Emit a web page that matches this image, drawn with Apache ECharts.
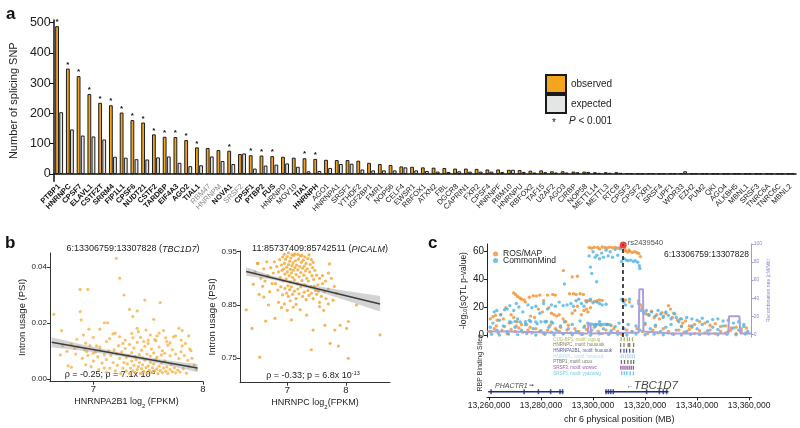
<!DOCTYPE html>
<html><head><meta charset="utf-8">
<script src="https://cdn.jsdelivr.net/npm/echarts@6/dist/echarts.min.js"></script>
<style>html,body{margin:0;padding:0;background:#fff}#c{width:800px;height:428px}</style>
</head><body><div id="c"></div><script>
const FONT = 'Liberation Sans, Arial, Helvetica, sans-serif';
// ---------- panel a ----------
const rbps = ['PTBP1','HNRNPC','CPSF7','ELAVL1','CSTF2T','SRRM4','FIP1L1','CPSF6','NUDT21','CSTF2','TARDBP','EIF4A3','AGO2','TIAL1','RBM47','HNRNPM','NOVA1','SRSF2','CPSF1','PTBP2','FUS','HNRNPD','MOV10','TIA1','HNRNPH','AGO1','HNRNPA1','SRSF1','YTHDF2','IGF2BP1','FMR1','NOP56','CELF4','EWSR1','RBFOX1','ATXN2','FBL','DGCR8','CAPRIN1','FXR2','CPSF4','HNRNPF','RBM10','HNRNPU','RBFOX2','TAF15','U2AF2','AGO3','CIRBP','NOP58','METTL14','METTL3','RTCB','CPSF3','CPSF2','FXR1','SRSF4','UPF1','WDR33','EZH2','PUM2','QKI','AGO4','ALKBH5','MBNL1','SRSF3','TNRC6A','TNRC6C','MBNL2'];
const observed = [488,348,323,264,235,227,203,178,170,131,123,122,112,88,86,79,77,66,62,61,59,57,54,52,50,47,46,46,44,37,33,30,25,24,22,21,20,18,18,17,15,15,14,13,11,12,9,9,8,8,6,6,6,3,3,3,2,3,3,2,2,2,2,2,2,2,2,2,1];
const expected = [204,147,127,124,114,57,54,49,48,55,58,37,26,29,58,43,33,68,18,28,31,35,24,9,10,20,33,34,15,12,12,12,22,12,10,8,7,9,8,8,8,7,14,7,5,6,5,5,6,7,4,4,4,3,3,3,3,3,9,3,2,2,2,2,2,2,2,2,2];
const sigFlags = [1,1,1,1,1,1,1,1,1,1,1,1,1,1,0,0,1,0,1,1,1,0,0,1,1,0,0,0,0,0,0,0,0,0,0,0,0,0,0,0,0,0,0,0,0,0,0,0,0,0,0,0,0,0,0,0,0,0,0,0,0,0,0,0,0,0,0,0,0];
const grayLabels = ['RBM47','HNRNPM','SRSF2'];
const yTicksA = [0,100,200,300,400,500];

// ---------- panel b ----------
const bLeftPts = [[7.21,0.0432],[7.24,0.0361],[7.28,0.0301],[6.88,0.0321],[6.95,0.0321],[7.47,0.0283],[7.61,0.0274],[6.64,0.0232],[6.88,0.0242],[7.33,0.025],[7.40,0.0244],[7.36,0.0224],[7.10,0.0202],[7.13,0.0202],[6.71,0.0174],[6.89,0.0212],[6.96,0.0179],[7.06,0.0179],[7.40,0.0182],[7.48,0.0176],[7.55,0.0214],[7.64,0.0174],[7.78,0.0182],[7.81,0.0174],[7.87,0.0155],[7.88,0.0108],[6.70,0.0087],[6.77,0.0048],[6.80,0.0043],[6.85,0.0143],[6.91,0.0158],[6.93,0.0129],[7.00,0.015],[7.03,0.0119],[7.12,0.0135],[7.18,0.0162],[7.24,0.0152],[7.29,0.014],[7.35,0.0164],[7.43,0.015],[7.50,0.014],[7.58,0.0155],[7.67,0.0135],[7.73,0.0152],[7.81,0.0119],[7.89,0.0102],[7.94,0.0036],[7.92,0.0051],[7.87,0.0045],[6.83,0.0111],[6.94,0.0099],[7.00,0.0093],[7.06,0.0105],
[7.15,0.004],[7.18,0.006],[7.2,0.003],[7.22,0.005],[7.24,0.0075],[7.25,0.002],[7.27,0.004],[7.28,0.006],[7.3,0.003],[7.31,0.0055],[7.32,0.0085],[7.33,0.002],[7.34,0.004],[7.35,0.0065],[7.36,0.003],[7.37,0.005],[7.38,0.0025],[7.39,0.007],[7.4,0.0035],[7.41,0.0045],[7.42,0.006],[7.43,0.002],[7.44,0.0038],[7.45,0.0052],[7.46,0.0028],[7.47,0.0068],[7.48,0.0042],[7.49,0.0022],[7.5,0.0048],[7.51,0.0033],[7.52,0.006],[7.53,0.0025],[7.54,0.0041],[7.55,0.0055],[7.56,0.003],[7.57,0.0072],[7.58,0.0037],[7.59,0.002],[7.6,0.0047],[7.61,0.0031],[7.62,0.0058],[7.63,0.0024],[7.64,0.004],[7.65,0.0066],[7.66,0.0029],[7.67,0.0044],[7.68,0.0021],[7.7,0.0035],[7.71,0.0052],[7.72,0.0027],[7.74,0.0041],[7.75,0.0023],[7.77,0.0033],[7.79,0.0026],[7.82,0.0038],[7.85,0.0022],
[7.16,0.0085],[7.19,0.0105],[7.21,0.0092],[7.23,0.012],[7.26,0.0098],[7.29,0.011],[7.3,0.0078],[7.33,0.0125],[7.35,0.0095],[7.37,0.0112],[7.38,0.0082],[7.4,0.0132],[7.42,0.0088],[7.44,0.0104],[7.45,0.0076],[7.47,0.0118],[7.49,0.009],[7.5,0.0128],[7.52,0.0083],[7.53,0.0108],[7.55,0.0094],[7.57,0.0138],[7.58,0.0079],[7.6,0.0115],[7.62,0.0087],[7.63,0.0102],[7.65,0.0093],[7.68,0.0122],[7.7,0.0084],[7.72,0.0106],[7.75,0.009],[7.78,0.0074],[7.8,0.0098],[7.83,0.0085],[7.86,0.0068],[7.9,0.0075],
[6.72,0.012],[6.76,0.01],[6.8,0.0125],[6.84,0.009],[6.86,0.0118],[6.9,0.0075],[6.92,0.0105],[6.95,0.0085],[6.97,0.012],[7.0,0.0065],[7.02,0.0098],[7.04,0.008],[7.06,0.0115],[7.08,0.0058],[7.1,0.0088],[7.12,0.007],[7.14,0.0102],[6.98,0.0045],[7.05,0.0035],[7.1,0.004],[7.12,0.0025],[6.93,0.0052],
[7.15,0.0145],[7.2,0.0165],[7.27,0.0128],[7.36,0.0148],[7.41,0.017],[7.46,0.0135],[7.52,0.0158],[7.56,0.0142],[7.6,0.0165],[7.66,0.0148],[7.7,0.013],[7.75,0.0155],[7.8,0.014],[7.84,0.0128]];
const bLeftFit = [[6.62,0.0132],[7.95,0.0040]];
const bLeftBandX = [6.62,6.9,7.2,7.5,7.8,7.95];
const bLeftBandLo = [0.0114,0.0102,0.0085,0.0064,0.0039,0.0025];
const bLeftBandHi = [0.0150,0.0124,0.0099,0.0078,0.0061,0.0055];

const bRightPts = [[6.78,0.931],[6.82,0.922],[6.85,0.912],[6.87,0.935],[6.88,0.902],[6.9,0.925],[6.91,0.915],[6.92,0.94],[6.93,0.895],[6.94,0.918],[6.95,0.928],[6.96,0.908],[6.97,0.936],[6.98,0.899],[6.99,0.921],[7.0,0.912],[7.0,0.941],[7.01,0.886],[7.02,0.926],[7.03,0.905],[7.04,0.932],[7.05,0.917],[7.05,0.893],[7.06,0.938],[7.07,0.91],[7.08,0.924],[7.09,0.902],[7.1,0.929],[7.1,0.915],[7.11,0.943],[7.12,0.897],[7.13,0.92],[7.14,0.933],[7.15,0.907],[7.16,0.925],[7.17,0.89],[7.18,0.916],[7.19,0.936],[7.2,0.903],[7.21,0.922],[7.22,0.942],[7.23,0.911],[7.24,0.93],[7.25,0.896],[7.26,0.919],[7.27,0.934],[7.28,0.906],[7.29,0.923],[7.3,0.888],[7.31,0.914],[7.32,0.928],[7.33,0.9],[7.34,0.918],[7.35,0.937],[7.36,0.895],[7.38,0.912],[7.39,0.926],[7.4,0.884],[7.42,0.905],[7.43,0.92],[7.45,0.898],[7.47,0.915],[7.48,0.877],[7.5,0.906],[7.52,0.888],[7.55,0.9],
[6.8,0.89],[6.84,0.878],[6.89,0.884],[6.92,0.869],[6.96,0.881],[6.99,0.872],[7.02,0.866],[7.04,0.879],[7.07,0.884],[7.09,0.87],[7.12,0.876],[7.15,0.862],[7.18,0.88],[7.2,0.871],[7.23,0.884],[7.26,0.866],[7.29,0.874],[7.32,0.86],[7.35,0.877],[7.37,0.868],[7.41,0.872],[7.44,0.862],[7.46,0.885],[7.5,0.87],[7.53,0.876],[7.58,0.866],[7.6,0.89],[7.63,0.875],[7.66,0.862],[7.7,0.88],
[6.95,0.945],[7.02,0.948],[7.08,0.944],[7.13,0.946],[7.18,0.945],[7.25,0.943],[7.3,0.94],[7.37,0.944],[7.41,0.935],[7.44,0.93],
[6.45,0.912],[6.5,0.928],[6.55,0.9],[6.58,0.885],[6.6,0.918],[6.62,0.895],[6.65,0.931],[6.67,0.905],[6.7,0.875],[6.72,0.92],[6.74,0.89],[6.76,0.91],[6.6,0.865],[6.68,0.85],[6.52,0.87],[6.42,0.889],
[6.85,0.855],[6.9,0.845],[6.95,0.852],[7.0,0.84],[7.05,0.858],[7.1,0.846],[7.15,0.851],
[7.6,0.905],[7.65,0.895],[7.7,0.91],[7.72,0.927],[7.75,0.9],[7.8,0.885],[7.55,0.855],[7.62,0.84],[7.7,0.852],
[6.30,0.841],[6.40,0.806],[6.53,0.752],[6.63,0.820],[6.79,0.825],[6.49,0.928],[7.44,0.803],[7.41,0.766],[7.64,0.812],[7.81,0.803],[7.90,0.812],[8.04,0.819],[8.01,0.806],[7.87,0.773],[8.04,0.75],[8.58,0.794],[8.18,0.85],[7.73,0.778],[7.07,0.822],[7.22,0.841],[7.33,0.831],[7.55,0.847],[7.78,0.859],[7.84,0.872]];
const bRightFit = [[6.30,0.913],[8.58,0.852]];
const bRightBandX = [6.30,6.7,7.0,7.4,7.9,8.58];
const bRightBandLo = [0.905,0.8983,0.8913,0.8796,0.8622,0.838];
const bRightBandHi = [0.921,0.9063,0.8973,0.8876,0.8782,0.867];

// ---------- panel c (positions in kb) ----------
const rosmap = [[13298.5,63],[13299.5,62.5],[13300.5,63.2],[13301.8,63],[13302.5,62],[13303.5,63.4],[13304.6,63],[13305.5,62.6],[13306.4,63.3],[13307.5,62.8],[13308.6,63.1],[13309.6,62.5],[13310.4,63],
[13312.5,60.5],[13313.3,59.8],[13314.2,60.2],[13315.1,59.5],[13316,60],[13316.8,59.2],[13317.6,58.8],[13318.2,56.5],[13312.2,61.8],[13313.8,61.2],
[13288.6,46.5],[13292,42],[13294,42.5],
[13269.5,30.5],[13270.2,29.5],[13271,28],[13271.8,27],[13272.5,26],[13273.5,25.5],[13274,24],[13275.5,27.5],[13277,28.5],[13278.2,28.3],[13279.5,29],[13281,25],[13282.5,29],[13284.5,29.5],[13285.5,29],[13291,30],[13292.5,30],[13293.5,29.5],[13295,30],[13296.3,29.5],[13297.2,25],[13298,25],[13299,25],[13300.5,24.5],[13301.5,25],[13302.5,25.5],[13303.5,25.2],[13311.5,25],[13312.5,25.5],[13314,24],[13317.5,25],[13318.3,22],[13318.8,20],
[13260.5,12],[13261.5,13.5],[13262.5,14.5],[13263.2,11],[13264.5,15],[13265.5,12],[13266.5,20],[13267.8,9],[13268.5,15],[13269.5,13],[13270.8,10],[13272.5,8],[13274.5,8],[13276,14],[13277.5,13],[13279,19],[13280.5,17],[13282,10],[13283,20],[13284,16],[13285,15],[13286,14],[13287,15],[13288.5,12],[13289.5,10],[13290.5,7.5],[13292,16],[13293,18],[13294,21],[13295.5,15],[13296.5,18],[13297.5,19],[13298,17],[13299,20],
[13319.5,17],[13320.5,15.5],[13321.5,14.5],[13322.5,17.5],[13323.5,13],[13324.5,15],[13325.5,12],[13326.5,16.5],[13327,14],[13328,16],[13329,21.5],[13329.8,19],[13330.5,13],[13331.5,15.5],[13332.5,11],[13333.5,12],[13334.5,9],[13335.5,10.5],[13337,7],[13339,8],[13341,10],[13343,9],[13345,7.5],[13347,8.5],[13349,6.5],[13351,7],[13353,5.5],[13355,6],[13357,5],[13359,5.5],
[13260.5,3],[13262,5],[13263.5,2],[13265,4],[13267,1.5],[13268.5,4.5],[13270,3],[13271.5,5.5],[13273,2.5],[13275,4],[13276.5,2],[13278,5],[13279.5,3],[13281,1.5],[13282.5,4],[13284,2.5],[13285.5,5],[13287,3],[13288.5,1.5],[13290,4],[13291.5,2],[13293,5],[13294.5,3],[13296,1],[13297.5,4.5],[13299,2.5],[13300.5,6],[13302,3],[13303.5,1.5],[13305,4],[13306.5,2],[13308,5],[13309.5,3],[13311,1],[13313,4],[13315,2.5],[13317,5],[13319,3],[13321,1.5],[13323,4],[13325,2],[13327,5],[13329,3],[13331,1],[13333,4],[13335,2.5],[13337,4.5],[13339,1.5],[13341,3.5],[13343,2],[13345,4],[13347,1.5],[13349,3],[13351,2],[13353,4],[13355,1.5],[13357,3],[13359,2],
[13262.8,7],[13266,6.5],[13270.5,7],[13275.8,6],[13283.5,7.5],[13287.5,6],[13296.8,7],[13301,8],[13303,7.5],[13305.5,8],[13307,7.2],[13320,8],[13324,6.5],[13334,7],[13338,6]];
const commonMind = [[13298.5,57],[13299,49],[13299.5,44.5],[13300,60],[13300.8,56],[13301.5,57.5],[13302.5,55],[13303.3,59],[13304,56],[13305,61],[13305.8,57],[13306.6,60],[13307.5,56],[13308.5,61.5],[13309.5,57.5],[13310.5,62],[13311,53],[13312,55],[13312.8,54],[13313.5,53.5],[13314.5,54],[13315.5,53],[13316.3,53.5],[13317.2,52.5],[13318,48],[13317.8,50],
[13289,37],[13301.4,38.5],
[13262,17],[13263,18],[13264.5,15],[13266,18.5],[13267,19],[13268,21.5],[13269.5,18],[13270.5,23],[13271.5,20.5],[13273,17],[13275,22],[13276.5,20],[13278,21],[13279.5,16],[13281,23],[13282.5,19],[13284,22],[13285.5,21],[13287,24],[13288.5,21.5],[13290,22],[13291.5,23],[13292.5,21],[13293.5,25],[13294.5,26],[13295.5,23],[13296.5,21],[13297.5,24],[13299,26],[13300,23.5],[13301.5,24],[13302.5,23],[13303.5,22],[13305,22.5],[13311,26],[13311.8,24],[13312.5,22],[13314,26],[13315,21],[13317.5,23],[13318.5,18],[13319.5,16],[13320.5,18],[13321.5,15],[13322.5,17],[13324,14],[13325,18],[13326,15.5],[13327,13],[13328,17],[13329,14.5],[13330,12],[13331,16],[13332,13],[13333,10],[13334,12],[13336,13],[13338,12],[13340,11],[13342,12.5],[13344,10],[13346,11.5],[13348,12],[13350,10.5],[13352,11],[13354,9],[13356,10],[13358,8],
[13298.5,8],[13299.5,8.2],[13300.5,7.8],[13301.5,8.1],[13302.5,8],[13303.5,7.9],[13304.5,8.2],[13305.5,8],[13306.5,7.8],[13268,10],[13270,10.2],[13272,9.8],[13274,10],[13276,10.1],[13278,9.9],[13280,10],[13282,10.2],[13284,9.8],
[13260.5,6],[13261.5,9],[13263,4],[13264,11],[13265.5,7],[13267,3],[13268.5,9.5],[13270,6],[13271,12],[13272.5,4],[13274,8],[13275.5,11],[13277,5],[13278.5,8.5],[13280,3.5],[13281.5,10],[13283,6],[13284.5,9],[13286,4],[13287.5,7],[13289,10],[13290.5,5],[13292,8],[13293.5,3],[13295,10.5],[13296.5,6],[13298,9],[13299.5,4],[13301,7],[13302.5,10],[13304,5],[13305.5,8],[13307,3.5],[13308.5,6.5],[13310,9],[13312,5],[13313.5,8],[13315,3],[13316.5,7],[13318,4],[13320,9],[13322,5],[13324,7.5],[13326,3],[13328,6],[13330,8],[13332,4],[13334,6.5],[13336,3],[13338,7],[13340,5],[13342,8],[13344,3.5],[13346,6],[13348,4.5],[13350,7],[13352,3],[13354,5.5],[13356,4],[13358,6.5],[13359.5,3],
[13261,1],[13264,0.5],[13267.5,1.2],[13271,0.8],[13274.5,1.5],[13278,0.5],[13281.5,1],[13285,0.7],[13288.5,1.3],[13292,0.6],[13295.5,1.1],[13299,0.4],[13302.5,1.4],[13306,0.8],[13309.5,1],[13313,0.5],[13316.5,1.2],[13320,0.7],[13323.5,1.1],[13327,0.6],[13330.5,1.3],[13334,0.5],[13337.5,1],[13341,0.8],[13344.5,1.2],[13348,0.6],[13351.5,1],[13355,0.7],[13358.5,1.2]];
const leadSnp = [[13311.6,64.8]];
const leadSnpName = 'rs2439540';
const recomb = [[13259.3,3],[13267.5,3],[13267.8,1],[13298.0,1],[13298.2,12],[13299.0,12],[13299.2,1],[13317.6,2],[13317.8,50],[13319.2,50],[13319.4,3],[13330,1],[13352.0,1],[13352.3,20],[13356.3,20],[13356.6,1],[13361,1]];
const leftTicksC = [0,20,40,60];
const rightTicksC = [0,20,40,60,80,100];
const xTicksC = [13260,13280,13300,13320,13340,13360];
const rbpLabels = ['CUG-BP1, motif: ugcug','HNRNPC, motif: huuuuuk','HNRNPA2B1, motif: huuuuuk','HNRNPL, motif: huuuuuk','PTBP1, motif: ucuu','SRSF3, motif: wcwwc','SRSF5, motif: yyacwwg'];
const rbpColors = ['#a3a33a','#5f5f3c','#2b2b80','#9dd3f0','#4a4a3a','#7a2a9a','#45bde0'];
const rbpSites = [[13310.8,13312.0,13313.2,13314.0,13315.2],[13310.6,13311.9,13313.5,13314.1,13315.6],[13310.6,13311.9,13312.9,13314.1,13315.4],[13310.8,13311.6,13312.5,13313.4,13314.2,13315.1,13315.9],[13310.9,13312.1,13313.4,13314.6,13315.6],[13310.7,13311.5,13312.3,13313.1,13313.9,13314.7,13315.5],[13311.0,13312.0,13313.0,13314.3,13315.5]];
const rbpLabelPos = 13284.7;
const genePHACTR1 = [13259.7,13288.6];
const geneTBC1D7 = [13304.6,13329.0];
const exons = [13260.8,13273.5,13279,13283.7,13287.3,13288.3,13305,13305.9,13306.8,13307.8,13320.6,13325.5,13327,13328.3];
const geneRow = 0.29, geneLabelRow = 0.6;

function bandRender(xs, lo, hi) {
  return function (params, api) {
    if (params.dataIndex !== 0) return null;
    const pts = [];
    for (let i = 0; i < xs.length; i++) pts.push(api.coord([xs[i], hi[i]]));
    for (let i = xs.length - 1; i >= 0; i--) pts.push(api.coord([xs[i], lo[i]]));
    return { type: 'polygon', shape: { points: pts }, style: { fill: 'rgba(150,150,150,0.42)' } };
  };
}

const chart = echarts.init(document.getElementById('c'), null, { renderer: 'canvas' });
const axisCol = '#222';
const subRich = { s: { fontSize: 6, verticalAlign: 'bottom', lineHeight: 8, padding: [0, 0, -3, 0] } };

const option = {
  animation: false,
  backgroundColor: '#fff',
  textStyle: { fontFamily: FONT },
  grid: [
    { left: 52, top: 20.1, width: 744, height: 161.2 },
    { left: 50, top: 253, width: 153, height: 128.7 },
    { left: 240, top: 251, width: 150, height: 131.7 },
    { left: 487, top: 244, width: 264.7, height: 93.1 },
    { left: 487, top: 336.5, width: 264.7, height: 39.7 },
    { left: 487, top: 378, width: 264.7, height: 19.3 }
  ],
  legend: [
    { data: ['observed', 'expected'], left: 545, top: 74, orient: 'vertical', icon: 'rect', itemWidth: 20, itemHeight: 18, itemGap: 0, padding: 0, selectedMode: false, textStyle: { fontSize: 10, color: '#222', fontFamily: FONT } },
    { data: ['ROS/MAP', 'CommonMind'], left: 493, top: 249.5, orient: 'vertical', icon: 'circle', itemWidth: 5, itemHeight: 5, itemGap: -2.5, padding: 0, selectedMode: false, textStyle: { fontSize: 8.5, color: '#222', lineHeight: 7, fontFamily: FONT } }
  ],
  xAxis: [
    { type: 'category', gridIndex: 0, data: rbps,
      axisLine: { lineStyle: { color: '#111', width: 1.5 } },
      axisTick: { alignWithLabel: true, interval: 0, length: 3, lineStyle: { color: '#111' } },
      axisLabel: { interval: 0, rotate: 45, fontSize: 7.5, margin: 4, color: '#222', fontFamily: FONT,
        formatter: function (v, i) { if (sigFlags[i]) return '{b|' + v + '}'; if (grayLabels.indexOf(v) >= 0) return '{g|' + v + '}'; return v; },
        rich: { b: { fontWeight: 'bold', fontSize: 7.5, color: '#111', fontFamily: FONT }, g: { color: '#8a8a8a', fontSize: 7.5, fontFamily: FONT } } } },
    { type: 'value', gridIndex: 1, min: 6.605, max: 8.0, splitLine: { show: false },
      axisLine: { onZero: false, lineStyle: { color: '#333' } },
      axisTick: { customValues: [7, 8], length: 3, lineStyle: { color: '#333' } },
      axisLabel: { customValues: [7, 8], fontSize: 9.5, color: axisCol, margin: 3 },
      name: 'HNRNPA2B1 log{s|2} (FPKM)', nameLocation: 'middle', nameGap: 14,
      nameTextStyle: { fontSize: 9, color: axisCol, lineHeight: 11, rich: subRich } },
    { type: 'value', gridIndex: 2, min: 6.194, max: 8.75, splitLine: { show: false },
      axisLine: { onZero: false, lineStyle: { color: '#333' } },
      axisTick: { customValues: [7, 8], length: 3, lineStyle: { color: '#333' } },
      axisLabel: { customValues: [7, 8], fontSize: 9.5, color: axisCol, margin: 3 },
      name: 'HNRNPC log{s|2}(FPKM)', nameLocation: 'middle', nameGap: 14,
      nameTextStyle: { fontSize: 9, color: axisCol, lineHeight: 11, rich: subRich } },
    { type: 'value', gridIndex: 3, min: 13259.23, max: 13361.0, show: false },
    { type: 'value', gridIndex: 4, min: 13259.23, max: 13361.0, show: false },
    { type: 'value', gridIndex: 5, min: 13259.23, max: 13361.0, splitLine: { show: false },
      axisLine: { onZero: false, lineStyle: { color: '#222' } },
      axisTick: { customValues: xTicksC, length: 3, lineStyle: { color: '#222' } },
      axisLabel: { customValues: xTicksC, fontSize: 8.5, color: axisCol, margin: 4, formatter: function (v) { return Math.round(v * 1000).toLocaleString('en-US'); } },
      name: 'chr 6 physical position (MB)', nameLocation: 'middle', nameGap: 18, nameTextStyle: { fontSize: 9, color: axisCol } }
  ],
  yAxis: [
    { type: 'value', gridIndex: 0, min: -24, max: 508, splitLine: { show: false },
      axisLine: { show: true, lineStyle: { color: '#111', width: 1.5 } },
      axisTick: { show: true, customValues: yTicksA, length: 4, lineStyle: { color: '#111' } },
      axisLabel: { customValues: yTicksA, fontSize: 12.5, color: '#222', margin: 3 },
      name: 'Number of splicing SNP', nameLocation: 'middle', nameGap: 31, nameTextStyle: { fontSize: 11, color: '#222' } },
    { type: 'value', gridIndex: 1, min: -0.00086, max: 0.0451, splitLine: { show: false },
      axisLine: { show: true, onZero: false, lineStyle: { color: '#333' } },
      axisTick: { show: true, customValues: [0, 0.02, 0.04], length: 3, lineStyle: { color: '#333' } },
      axisLabel: { customValues: [0, 0.02, 0.04], fontSize: 8, color: axisCol, margin: 3, formatter: function (v) { return v.toFixed(2); } },
      name: 'Intron usage (PSI)', nameLocation: 'middle', nameGap: 21, nameTextStyle: { fontSize: 9.5, color: axisCol } },
    { type: 'value', gridIndex: 2, min: 0.7042, max: 0.9513, splitLine: { show: false },
      axisLine: { show: true, onZero: false, lineStyle: { color: '#333' } },
      axisTick: { show: true, customValues: [0.75, 0.85, 0.95], length: 3, lineStyle: { color: '#333' } },
      axisLabel: { customValues: [0.75, 0.85, 0.95], fontSize: 8, color: axisCol, margin: 3, formatter: function (v) { return v.toFixed(2); } },
      name: 'Intron usage (PSI)', nameLocation: 'middle', nameGap: 23, nameTextStyle: { fontSize: 9.5, color: axisCol } },
    { type: 'value', gridIndex: 3, min: -1, max: 65.5, splitLine: { show: false },
      axisLine: { show: true, onZero: false, lineStyle: { color: '#222' } },
      axisTick: { show: true, customValues: leftTicksC, length: 3, lineStyle: { color: '#222' } },
      axisLabel: { customValues: leftTicksC, fontSize: 10, color: axisCol, margin: 3 },
      name: '-log{s|10}(sQTL p-value)', nameLocation: 'middle', nameGap: 15,
      nameTextStyle: { fontSize: 8.5, color: axisCol, lineHeight: 10, rich: { s: { fontSize: 5.5, verticalAlign: 'bottom', lineHeight: 7 } } } },
    { type: 'value', gridIndex: 3, position: 'right', min: -3.1, max: 100, splitLine: { show: false },
      axisLine: { show: true, onZero: false, lineStyle: { color: '#9a9ad6' } },
      axisTick: { show: true, customValues: rightTicksC, length: 2, lineStyle: { color: '#9a9ad6' } },
      axisLabel: { customValues: rightTicksC, fontSize: 5, color: '#8a8ad0', margin: 2 },
      name: 'Recombination rate (cM/Mb)', nameLocation: 'middle', nameGap: 11, nameTextStyle: { fontSize: 5, color: '#8a8ad0' } },
    { type: 'category', gridIndex: 4, data: rbpLabels, inverse: true, show: false },
    { type: 'value', gridIndex: 5, min: 0, max: 1, show: false }
  ],
  series: [
    { name: 'observed', type: 'bar', xAxisIndex: 0, yAxisIndex: 0, data: observed, barWidth: 3.8, barGap: '8%',
      itemStyle: { color: '#F3A51F', borderColor: '#1b1b1b', borderWidth: 1 },
      label: { show: true, position: 'top', distance: 0, fontSize: 8, fontWeight: 'bold', color: '#111', formatter: function (p) { return sigFlags[p.dataIndex] ? '*' : ''; } } },
    { name: 'expected', type: 'bar', xAxisIndex: 0, yAxisIndex: 0, data: expected, barWidth: 3.8,
      itemStyle: { color: '#E4E5E5', borderColor: '#1b1b1b', borderWidth: 1 } },
    { type: 'scatter', xAxisIndex: 1, yAxisIndex: 1, data: bLeftPts, symbolSize: 3.2, itemStyle: { color: '#F6B14A' } },
    { type: 'custom', xAxisIndex: 1, yAxisIndex: 1, data: bLeftBandX.map(function (x, i) { return [x, bLeftBandHi[i]]; }), renderItem: bandRender(bLeftBandX, bLeftBandLo, bLeftBandHi), z: 3 },
    { type: 'line', xAxisIndex: 1, yAxisIndex: 1, data: bLeftFit, showSymbol: false, lineStyle: { color: '#3d3d3d', width: 1.5 }, z: 4 },
    { type: 'scatter', xAxisIndex: 2, yAxisIndex: 2, data: bRightPts, symbolSize: 3.2, itemStyle: { color: '#F2A42E' } },
    { type: 'custom', xAxisIndex: 2, yAxisIndex: 2, data: bRightBandX.map(function (x, i) { return [x, bRightBandHi[i]]; }), renderItem: bandRender(bRightBandX, bRightBandLo, bRightBandHi), z: 3 },
    { type: 'line', xAxisIndex: 2, yAxisIndex: 2, data: bRightFit, showSymbol: false, lineStyle: { color: '#3d3d3d', width: 1.5 }, z: 4 },
    { name: 'ROS/MAP', type: 'scatter', xAxisIndex: 3, yAxisIndex: 3, data: rosmap, symbolSize: 3.4, itemStyle: { color: '#F28E2B' } },
    { name: 'CommonMind', type: 'scatter', xAxisIndex: 3, yAxisIndex: 3, data: commonMind, symbolSize: 3.4, itemStyle: { color: '#4DB3E6' } },
    { type: 'line', xAxisIndex: 3, yAxisIndex: 4, data: recomb, showSymbol: false, lineStyle: { color: '#aaa0de', width: 2 }, z: 3 },
    { type: 'scatter', xAxisIndex: 3, yAxisIndex: 3, data: leadSnp, symbolSize: 7, itemStyle: { color: '#e8151b' }, z: 5,
      label: { show: true, position: 'right', distance: 1, offset: [0, -2], formatter: leadSnpName, fontSize: 7.5, color: '#222' },
      markLine: { symbol: 'none', silent: true, label: { show: false }, lineStyle: { type: [4, 3], color: '#111', width: 1.5 }, data: [{ xAxis: leadSnp[0][0] }] } },
    { type: 'scatter', xAxisIndex: 4, yAxisIndex: 5, symbol: 'rect', symbolSize: [1.3, 4],
      data: rbpSites.reduce(function (acc, row, i) { row.forEach(function (x) { acc.push([x, i]); }); return acc; }, []),
      itemStyle: { color: function (p) { return rbpColors[p.data[1]]; } } },
    { type: 'scatter', xAxisIndex: 4, yAxisIndex: 5, symbolSize: 0,
      data: rbpLabels.map(function (t, i) { return { value: [rbpLabelPos, i], label: { color: rbpColors[i] } }; }),
      label: { show: true, position: 'right', distance: 0, fontSize: 4.5, formatter: function (p) { return rbpLabels[p.dataIndex]; } } },
    { type: 'line', xAxisIndex: 5, yAxisIndex: 6, data: genePHACTR1.map(function (x) { return [x, geneRow]; }), showSymbol: false, lineStyle: { color: '#1f2a78', width: 1.5 } },
    { type: 'line', xAxisIndex: 5, yAxisIndex: 6, data: geneTBC1D7.map(function (x) { return [x, geneRow]; }), showSymbol: false, lineStyle: { color: '#1f2a78', width: 1.5 } },
    { type: 'scatter', xAxisIndex: 5, yAxisIndex: 6, symbol: 'rect', symbolSize: [1.6, 5], data: exons.map(function (x) { return [x, geneRow]; }), itemStyle: { color: '#1f2a78' } },
    { type: 'scatter', xAxisIndex: 5, yAxisIndex: 6, symbolSize: 0,
      data: [
        { value: [13262.3, geneLabelRow], label: { formatter: '{i|PHACTR1}{a| ➞}', rich: { i: { fontStyle: 'italic', fontSize: 7, color: '#111' }, a: { fontSize: 6, color: '#111' } } } },
        { value: [13313.0, geneLabelRow], label: { formatter: '{a|←}{i|TBC1D7}', rich: { i: { fontStyle: 'italic', fontSize: 11.5, color: '#111' }, a: { fontSize: 7, color: '#111' } } } }
      ],
      label: { show: true, position: 'right', distance: 0 } }
  ],
  graphic: [
    { type: 'text', x: 6, y: 14, style: { text: 'a', fontSize: 17, fontWeight: 'bold', fontFamily: FONT, fill: '#111', verticalAlign: 'middle' } },
    { type: 'text', x: 5, y: 243, style: { text: 'b', fontSize: 17, fontWeight: 'bold', fontFamily: FONT, fill: '#111', verticalAlign: 'middle' } },
    { type: 'text', x: 428, y: 243, style: { text: 'c', fontSize: 17, fontWeight: 'bold', fontFamily: FONT, fill: '#111', verticalAlign: 'middle' } },
    { type: 'text', x: 552, y: 123, style: { text: '*', fontSize: 10, fontFamily: FONT, fill: '#222', verticalAlign: 'middle' } },
    { type: 'text', x: 569, y: 121, style: { text: '{p|P} < 0.001', fontSize: 10, fontFamily: FONT, fill: '#222', verticalAlign: 'middle', rich: { p: { fontStyle: 'italic', fontSize: 10, fontFamily: FONT } } } },
    { type: 'text', x: 133, y: 249, style: { text: '6:13306759:13307828 ({i|TBC1D7})', fontSize: 9, fontFamily: FONT, fill: '#222', align: 'center', verticalAlign: 'middle', rich: { i: { fontStyle: 'italic', fontSize: 9, fontFamily: FONT } } } },
    { type: 'text', x: 320, y: 249, style: { text: '11:85737409:85742511 ({i|PICALM})', fontSize: 9, fontFamily: FONT, fill: '#222', align: 'center', verticalAlign: 'middle', rich: { i: { fontStyle: 'italic', fontSize: 9, fontFamily: FONT } } } },
    { type: 'text', x: 110, y: 375, style: { text: 'ρ = -0.25; p = 7.1x 10{s|-8}', fontSize: 9, lineHeight: 11, fontFamily: FONT, fill: '#222', align: 'center', verticalAlign: 'middle', rich: { s: { fontSize: 5.5, verticalAlign: 'top', lineHeight: 6 } } } },
    { type: 'text', x: 313, y: 376, style: { text: 'ρ = -0.33; p = 6.8x 10{s|-13}', fontSize: 9, lineHeight: 11, fontFamily: FONT, fill: '#222', align: 'center', verticalAlign: 'middle', rich: { s: { fontSize: 5.5, verticalAlign: 'top', lineHeight: 6 } } } },
    { type: 'text', x: 749, y: 255, style: { text: '6:13306759:13307828', fontSize: 8.5, fontFamily: FONT, fill: '#222', align: 'right', verticalAlign: 'middle' } },
    { type: 'text', x: 480, y: 363, rotation: Math.PI / 2, style: { text: 'RBP Binding Sites', fontSize: 7, fontFamily: FONT, fill: '#333', align: 'center', verticalAlign: 'middle' } }
  ]
};
chart.setOption(option);
</script></body></html>
